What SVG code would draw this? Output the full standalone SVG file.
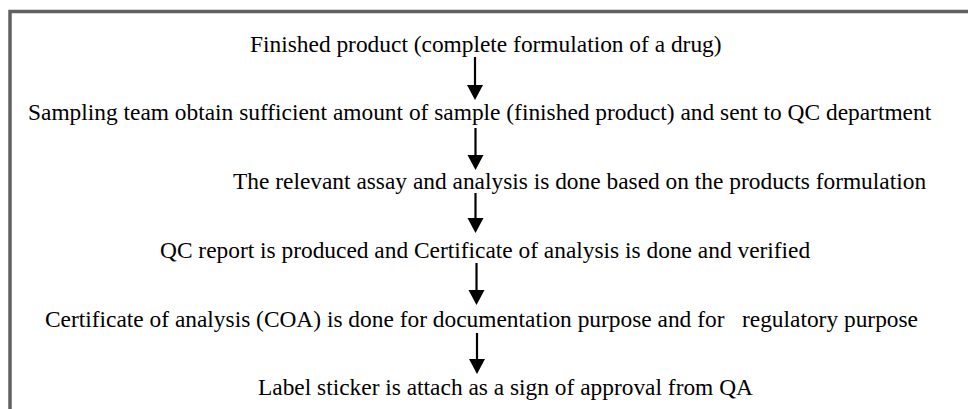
<svg xmlns="http://www.w3.org/2000/svg" width="968" height="409" viewBox="0 0 968 409">
<style>
text{font-family:'Liberation Serif',Tinos,'Times New Roman',Times,serif;font-size:23.4px;fill:#000;white-space:pre}
.b{stroke:#616161;stroke-width:3.5;fill:none}
.s{stroke:#000;stroke-width:2.2;fill:none}
.h{fill:#000}
</style>
<defs>
<g id="ah"><polygon class="h" points="-8,0 8,0 0,15"/></g>
</defs>
<g id="frame">
<path class="b" d="M10,409 V11.5 H968"/>
</g>
<g id="connectors">
<line class="s" x1="475" y1="57" x2="475" y2="86"/><use href="#ah" x="475" y="85"/>
<line class="s" x1="475.5" y1="128" x2="475.5" y2="156"/><use href="#ah" x="475.5" y="155"/>
<line class="s" x1="475.5" y1="193" x2="475.5" y2="219"/><use href="#ah" x="475.5" y="218"/>
<line class="s" x1="476.5" y1="263" x2="476.5" y2="291"/><use href="#ah" x="476.5" y="290"/>
<line class="s" x1="477" y1="333" x2="477" y2="360"/><use href="#ah" x="477" y="359"/>
</g>
<g id="n1"><text font-family="Liberation Serif, serif" x="250" y="51.7">Finished product (complete formulation of a drug)</text></g>
<g id="n2"><text font-family="Liberation Serif, serif" x="28" y="120">Sampling team obtain sufficient amount of sample (finished product) and sent to QC department</text></g>
<g id="n3"><text font-family="Liberation Serif, serif" x="233" y="189.3">The relevant assay and analysis is done based on the products formulation</text></g>
<g id="n4"><text font-family="Liberation Serif, serif" x="160" y="257.7">QC report is produced and Certificate of analysis is done and verified</text></g>
<g id="n5"><text font-family="Liberation Serif, serif" x="45" y="326.7">Certificate of analysis (COA) is done for documentation purpose and for   regulatory purpose</text></g>
<g id="n6"><text font-family="Liberation Serif, serif" x="258" y="395">Label sticker is attach as a sign of approval from QA</text></g>
</svg>
